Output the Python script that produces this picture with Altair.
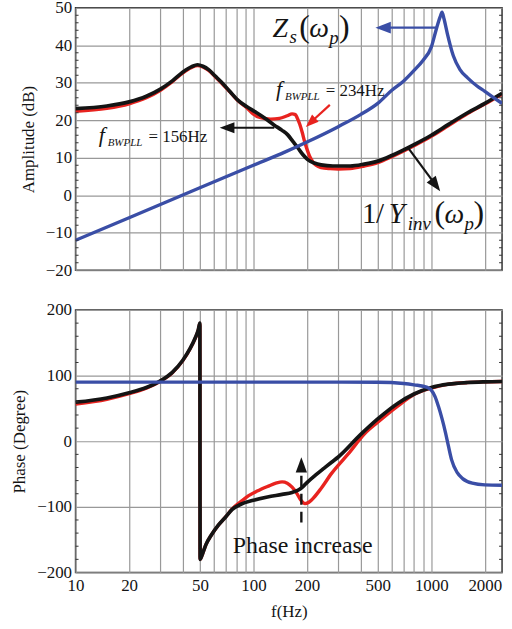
import altair as alt
import pandas as pd

SERIF = "Liberation Serif"
INK = "#141414"
RED = "#e8231f"
BLUE = "#3a4ea6"
GRID = "#999999"

W = 429
H_AMP = 264
H_PH = 264

# ---------------- amplitude panel (dB) ----------------
f_amp_black = [10, 15, 20, 25, 30, 35, 40, 45, 48.5, 52, 56, 61, 66, 74, 82, 92, 102,
               115, 131, 145, 156, 167, 178, 190, 202, 220, 240, 280, 350, 420, 500,
               600, 800, 1000, 1250, 1600, 2000, 2500]
amp_black = [23.1, 23.8, 24.9, 26.4, 28.3, 30.5, 32.8, 34.3, 34.8, 34.4, 33.5, 31.8, 30.2,
             27.6, 25.3, 23.6, 22.3, 20.7, 18.7, 17.3, 16.1, 14.3, 12.6, 10.8, 9.5, 8.6,
             8.1, 7.8, 7.8, 8.3, 9.1, 10.6, 13.5, 16.0, 18.9, 22.0, 24.5, 27.2]

f_amp_red = [10, 15, 20, 25, 30, 35, 40, 45, 48.5, 52, 56, 61, 66, 74, 82, 92, 100, 110,
             125, 140, 155, 165, 172, 176, 182, 188, 194, 200, 207, 215, 225, 240, 270,
             300, 350, 420, 500, 600, 800, 1000, 1250, 1600, 2000, 2500]
amp_red = [22.4, 23.2, 24.4, 26.0, 28.0, 30.3, 32.6, 34.1, 34.6, 34.2, 33.3, 31.6, 30.0,
           27.5, 25.2, 23.3, 21.6, 20.7, 20.3, 20.5, 21.2, 21.7, 21.5, 20.7, 19.0, 16.8,
           14.3, 12.3, 10.4, 9.0, 8.0, 7.4, 7.1, 7.0, 7.1, 7.8, 8.7, 10.3, 13.2, 15.7,
           18.6, 21.8, 24.3, 27.0]

f_amp_blue = [10, 20, 50, 100, 150, 200, 300, 400, 500, 600, 700, 800, 900, 1000, 1070,
              1120, 1150, 1180, 1230, 1330, 1450, 1600, 1800, 2000, 2250, 2500]
amp_blue = [-12.0, -6.0, 2.0, 8.0, 11.5, 14.2, 18.3, 21.5, 24.5, 28.0, 30.5, 33.3, 36.0,
            39.5, 44.5, 47.5, 48.8, 47.0, 43.2, 37.2, 33.5, 31.3, 29.2, 27.7, 26.0, 24.5]

# ---------------- phase panel (degree) ----------------
f_ph_black = [10, 15, 20, 25, 30, 35, 40, 44, 47, 49, 50, 50.15, 52, 54, 58, 63.5, 70, 76,
              85, 100, 120, 145, 165, 180, 190, 200, 225, 250, 275, 300, 400, 500, 650,
              800, 1000, 1250, 1600, 2000, 2500]
ph_black = [59.5, 66, 74, 82, 92, 105, 123, 141, 157, 170, 180, -180, -170, -158, -143,
            -128, -115, -104, -96, -90, -85, -81, -78, -74, -69, -63, -51, -41, -32, -24,
            10, 34, 58, 72, 82, 87, 89.5, 90.5, 91]

f_ph_red = [10, 15, 20, 25, 30, 35, 40, 44, 47, 49, 50, 50.15, 52, 54, 58, 63.5, 70, 76,
            85, 94, 105, 120, 135, 145, 155, 165, 175, 185, 195, 205, 220, 240, 275, 342,
            424, 500, 650, 809, 1000, 1250, 1600, 2000, 2500]
ph_red = [56.5, 64, 72.5, 81, 91.5, 104.5, 122.5, 140.5, 156.5, 169.5, 179.5, -180, -170,
          -158, -143, -128, -115, -103, -92, -83, -76, -69, -63.5, -62, -64, -70, -79,
          -90, -95, -93, -85, -72, -49, -19, 12, 29, 54, 72, 81, 87, 89.5, 90.5, 91]

f_ph_blue = [10, 100, 300, 500, 700, 800, 950, 1000, 1050, 1100, 1150, 1200, 1250, 1300,
             1400, 1500, 1700, 2000, 2500]
ph_blue = [90, 90, 90, 89.8, 88, 86, 82, 78, 68, 52, 34, 14, -8, -28, -48, -57, -64,
           -66.5, -67]

# ---------------- axes ----------------
grid_f = [10, 20, 30, 40, 50, 60, 70, 80, 90, 100, 200, 300, 400, 500, 600, 700, 800,
          900, 1000, 2000]
label_f = [10, 20, 50, 100, 200, 500, 1000, 2000]
amp_ticks = [-20, -10, 0, 10, 20, 30, 40, 50]
ph_ticks = [-200, -100, 0, 100, 200]
amp_minor = [v for v in range(-18, 50, 2) if v % 10 != 0]
ph_minor = [v for v in range(-180, 200, 20) if v % 100 != 0]

xscale = alt.Scale(type="log", domain=[10, 2500], nice=False)
yamp = alt.Scale(domain=[-20, 50], nice=False, zero=False)
yph = alt.Scale(domain=[-200, 200], nice=False, zero=False)

x_top = alt.X("f:Q", scale=xscale, axis=alt.Axis(values=grid_f, labels=False, ticks=False,
                                                   domain=False, title=None))
label_expr = "indexof(" + str(label_f) + ", datum.value) >= 0 ? datum.label : ''"
x_bot = alt.X("f:Q", scale=xscale,
              axis=alt.Axis(values=grid_f, format="d", labelExpr=label_expr,
                            labelOverlap=False, labelFlush=False, ticks=False,
                            domain=False, labelPadding=5, title="f(Hz)", titlePadding=10))
y_top = alt.Y("v:Q", scale=yamp, axis=alt.Axis(values=amp_ticks, ticks=False, domain=False,
                                               labelPadding=4, title="Amplitude (dB)",
                                               titlePadding=8))
y_bot = alt.Y("v:Q", scale=yph, axis=alt.Axis(values=ph_ticks, ticks=False, domain=False,
                                              labelPadding=4, title="Phase (Degree)",
                                              titlePadding=8))


def table(freqs, vals):
    return pd.DataFrame({"f": freqs, "v": vals, "i": list(range(len(freqs)))})


def curve(freqs, vals, color, X, Y, width=3.4):
    return alt.Chart(table(freqs, vals)).mark_line(
        color=color, strokeWidth=width, interpolate="monotone", clip=True
    ).encode(x=X, y=Y, order="i:Q")


def minor_ticks(vals, Y, X):
    df = pd.DataFrame({"v": vals, "f": [10] * len(vals)})
    left = alt.Chart(df).mark_rule(color="#333333", strokeWidth=1).encode(
        x=alt.value(0), x2=alt.value(3), y=Y)
    right = alt.Chart(df).mark_rule(color="#333333", strokeWidth=1).encode(
        x=alt.value(W - 3), x2=alt.value(W), y=Y)
    return [left, right]


def label(anchor, pieces, X, Y, color=INK):
    """pieces: (text, dx, dy, size, style)"""
    layers = []
    for text, dx, dy, size, style in pieces:
        df = pd.DataFrame({"f": [anchor[0]], "v": [anchor[1]], "t": [text]})
        layers.append(alt.Chart(df).mark_text(
            align="left", baseline="alphabetic", dx=dx, dy=dy, fontSize=size,
            fontStyle=style, font=SERIF, color=color
        ).encode(x=X, y=Y, text="t:N"))
    return layers


TRI = "M-0.75,1L0,-1L0.75,1Z"


def arrow(start, head, angle, color, X, Y, size=220, width=2.2, dash=None):
    df = pd.DataFrame({"f": [start[0]], "v": [start[1]], "f2": [head[0]], "v2": [head[1]]})
    rule_kw = dict(color=color, strokeWidth=width)
    if dash:
        rule_kw["strokeDash"] = dash
    line = alt.Chart(df).mark_rule(**rule_kw).encode(x=X, y=Y, x2="f2:Q", y2="v2:Q")
    hd = pd.DataFrame({"f": [head[0]], "v": [head[1]]})
    tip = alt.Chart(hd).mark_point(shape=TRI, filled=True, opacity=1, color=color,
                                   size=size, angle=angle, strokeWidth=0).encode(x=X, y=Y)
    return [line, tip]


# annotation anchors (frequency, value)
zs_pos = (128, 42.1)
yinv_pos = (408, -7.3)
bw234_pos = (134, 26.4)
bw156_pos = (13.5, 14.3)
phase_txt_pos = (206, -157.6)

amp_layers = []
amp_layers += [curve(f_amp_red, amp_red, RED, x_top, y_top),
               curve(f_amp_black, amp_black, INK, x_top, y_top, 3.7),
               curve(f_amp_blue, amp_blue, BLUE, x_top, y_top)]
amp_layers += minor_ticks(amp_minor, y_top, x_top)
amp_layers += arrow((1081, 44.7), (536, 44.7), 270, BLUE, x_top, y_top, size=240, width=2.4)
amp_layers += arrow((131, 18.0), (71.1, 18.0), 270, INK, x_top, y_top, size=220)
amp_layers += arrow((269, 24.1), (209.6, 19.4), 227.5, RED, x_top, y_top, size=170)
amp_layers += arrow((745, 12.5), (1059, 2.7), 143.4, INK, x_top, y_top, size=230)
amp_layers += label(zs_pos, [("Z", 0, 0, 28, "italic"), ("s", 17, 6, 19, "italic"),
                             ("(", 27, 0, 32, "normal"), ("ω", 37, 0, 28, "italic"),
                             ("p", 57, 7, 19, "italic"), (")", 67, 0, 32, "normal")],
                    x_top, y_top)
amp_layers += label(yinv_pos, [("1", 0, 0, 29, "normal"), ("/", 14, 0, 29, "normal"),
                               ("Y", 27, 0, 29, "italic"), ("inv", 46, 7, 19, "italic"),
                               ("(", 73, 0, 32, "normal"), ("ω", 83, 0, 28, "italic"),
                               ("p", 103, 7, 19, "italic"), (")", 112, 0, 32, "normal")],
                    x_top, y_top)
amp_layers += label(bw234_pos, [("f", 0, 0, 22, "italic"), ("BWPLL", 9, 4, 11, "italic"),
                                ("= 234Hz", 50, 0, 17, "normal")], x_top, y_top)
amp_layers += label(bw156_pos, [("f", 0, 0, 22, "italic"), ("BWPLL", 9, 4, 11, "italic"),
                                ("= 156Hz", 50, 0, 17, "normal")], x_top, y_top)

amp = alt.layer(*amp_layers).properties(width=W, height=H_AMP)

ph_layers = []
ph_layers += [curve(f_ph_red, ph_red, RED, x_bot, y_bot),
              curve(f_ph_black, ph_black, INK, x_bot, y_bot, 3.7),
              curve(f_ph_blue, ph_blue, BLUE, x_bot, y_bot)]
ph_layers += minor_ticks(ph_minor, y_bot, x_bot)
ph_layers += arrow((186, -124), (186, -36), 0, INK, x_bot, y_bot, size=230, width=2.4,
                   dash=[11, 7])
ph_layers += label(phase_txt_pos, [("Phase increase", -77, 8, 24, "normal")], x_bot, y_bot)

ph = alt.layer(*ph_layers).properties(width=W, height=H_PH)

chart = alt.vconcat(amp, ph, spacing=21).properties(
    padding={"left": 10, "top": -4, "right": 8, "bottom": 0},
    background="white"
).configure_view(
    stroke="#333333", strokeWidth=1.5
).configure_axis(
    grid=True, gridColor=GRID, gridWidth=1.2, gridOpacity=1,
    labelFont=SERIF, labelFontSize=17, labelColor=INK,
    titleFont=SERIF, titleFontSize=17, titleFontWeight="normal", titleColor=INK
)

chart.save("out.html", embed_options={"renderer": "svg", "actions": False})
